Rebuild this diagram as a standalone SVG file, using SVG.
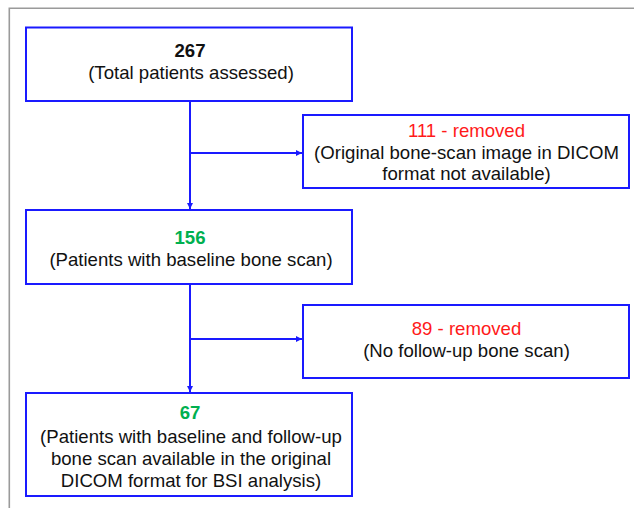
<svg xmlns="http://www.w3.org/2000/svg" width="634" height="508" viewBox="0 0 634 508">
<style>
.box{fill:#ffffff;stroke:#1a1aff;stroke-width:2}
.frame{fill:none;stroke:#9a9a9a;stroke-width:1.6}
.conn{fill:none;stroke:#1a1aff;stroke-width:2}
text{font-family:"Liberation Sans",Arial,sans-serif;font-size:18.6px;text-anchor:middle;fill:#111111}
.num{font-weight:bold}
.green{fill:#00b050}
.red{fill:#ff1a1a}
</style>
<defs>
<marker id="arr" viewBox="0 0 10 10" refX="10" refY="5" markerWidth="3.2" markerHeight="3.2" orient="auto" markerUnits="strokeWidth">
<path d="M0,0 L10,5 L0,10 z" fill="#1a1aff"/>
</marker>
</defs>
<rect width="634" height="508" fill="#ffffff"/>
<path class="frame" d="M9.3,508 L9.3,8.3 L634,8.3"/>
<g id="connectors">
<line class="conn" x1="190" y1="101" x2="190" y2="209" marker-end="url(#arr)"/>
<line class="conn" x1="190" y1="153" x2="302" y2="153" marker-end="url(#arr)"/>
<line class="conn" x1="190" y1="284" x2="190" y2="392" marker-end="url(#arr)"/>
<line class="conn" x1="190" y1="339" x2="302" y2="339" marker-end="url(#arr)"/>
</g>
<g id="n267">
<rect class="box" x="26" y="27.5" width="326" height="73.5"/>
<text class="num" x="190" y="57">267</text>
<text x="191" y="79">(Total patients assessed)</text>
</g>
<g id="n111">
<rect class="box" x="303" y="115" width="326" height="73"/>
<text class="red" x="466.5" y="137">111 - removed</text>
<text x="466.5" y="158.5">(Original bone-scan image in DICOM</text>
<text x="466.5" y="180">format not available)</text>
</g>
<g id="n156">
<rect class="box" x="26" y="210" width="326" height="74"/>
<text class="num green" x="190" y="244">156</text>
<text x="191" y="266">(Patients with baseline bone scan)</text>
</g>
<g id="n89">
<rect class="box" x="303" y="305" width="326" height="73"/>
<text class="red" x="466.5" y="335">89 - removed</text>
<text x="466.5" y="357">(No follow-up bone scan)</text>
</g>
<g id="n67">
<rect class="box" x="26" y="393" width="326" height="103"/>
<text class="num green" x="190" y="419">67</text>
<text x="191" y="443">(Patients with baseline and follow-up</text>
<text x="191" y="465">bone scan available in the original</text>
<text x="191" y="487">DICOM format for BSI analysis)</text>
</g>
</svg>
